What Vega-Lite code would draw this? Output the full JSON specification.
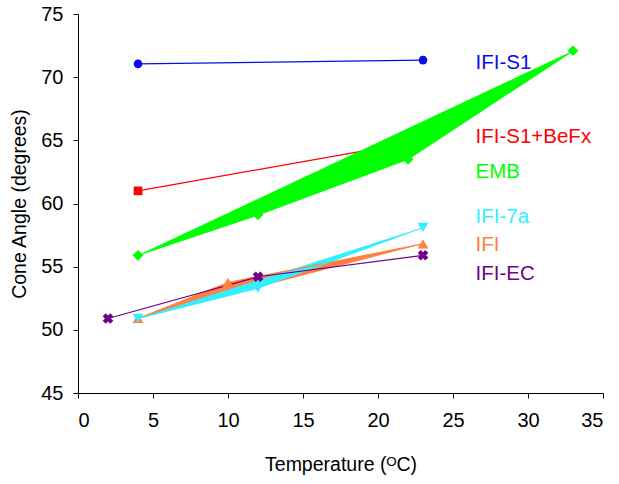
{
  "$schema": "https://vega.github.io/schema/vega-lite/v6.json",
  "width": 525,
  "height": 379,
  "autosize": "none",
  "padding": {"left": 78, "top": 14, "right": 16, "bottom": 91},
  "background": "white",
  "config": {
    "view": {"stroke": null},
    "font": "Liberation Sans",
    "axis": {
      "grid": false,
      "domainColor": "#000000",
      "tickColor": "#000000",
      "labelColor": "#000000",
      "titleColor": "#000000",
      "labelFont": "Liberation Sans",
      "titleFont": "Liberation Sans",
      "labelFontSize": 20,
      "titleFontSize": 19.5,
      "titleFontWeight": "normal",
      "tickSize": 5,
      "domainWidth": 1,
      "tickWidth": 1
    }
  },
  "datasets": {
    "pts": [
      {"series": "IFI-S1", "t": 4, "angle": 71.05},
      {"series": "IFI-S1", "t": 23, "angle": 71.35},
      {"series": "IFI-S1+BeFx", "t": 4, "angle": 61.0},
      {"series": "IFI-S1+BeFx", "t": 23, "angle": 65.0},
      {"series": "EMB", "t": 4, "angle": 55.9},
      {"series": "EMB", "t": 12, "angle": 59.1},
      {"series": "EMB", "t": 22, "angle": 63.5},
      {"series": "EMB", "t": 33, "angle": 72.1},
      {"series": "IFI", "t": 4, "angle": 50.9},
      {"series": "IFI", "t": 10, "angle": 53.75},
      {"series": "IFI", "t": 23, "angle": 56.8},
      {"series": "IFI-7a", "t": 4, "angle": 50.9},
      {"series": "IFI-7a", "t": 12, "angle": 53.3},
      {"series": "IFI-7a", "t": 23, "angle": 58.1},
      {"series": "IFI-EC", "t": 2, "angle": 50.9},
      {"series": "IFI-EC", "t": 12, "angle": 54.2},
      {"series": "IFI-EC", "t": 23, "angle": 55.9}
    ],
    "labels": [
      {"series": "IFI-S1", "t": 26.5, "angle": 71.1},
      {"series": "IFI-S1+BeFx", "t": 26.5, "angle": 65.3},
      {"series": "EMB", "t": 26.5, "angle": 62.5},
      {"series": "IFI-7a", "t": 26.5, "angle": 58.95},
      {"series": "IFI", "t": 26.5, "angle": 56.7},
      {"series": "IFI-EC", "t": 26.5, "angle": 54.4}
    ]
  },
  "encoding": {
    "x": {
      "field": "t", "type": "quantitative",
      "scale": {"domain": [0, 35], "nice": false, "zero": false},
      "axis": {"values": [0, 5, 10, 15, 20, 25, 30, 35], "title": "Temperature (ᴼC)", "labelPadding": 12, "titlePadding": 25}
    },
    "y": {
      "field": "angle", "type": "quantitative",
      "scale": {"domain": [45, 75], "nice": false, "zero": false},
      "axis": {"values": [45, 50, 55, 60, 65, 70, 75], "title": "Cone Angle (degrees)", "labelPadding": 10, "titlePadding": 11}
    },
    "color": {
      "field": "series", "type": "nominal",
      "scale": {
        "domain": ["IFI-S1", "IFI-S1+BeFx", "EMB", "IFI-7a", "IFI", "IFI-EC"],
        "range": ["#0a0aee", "#ff0000", "#00ff00", "#33eeff", "#ff8040", "#70008a"]
      },
      "legend": null
    }
  },
  "layer": [
    {
      "data": {"name": "pts"},
      "transform": [{"filter": "datum.series === 'IFI-S1' || datum.series === 'IFI-S1+BeFx'"}],
      "mark": {"type": "line", "strokeWidth": 1.2}
    },
    {
      "data": {"name": "pts"},
      "transform": [{"filter": "datum.series === 'IFI-S1' || datum.series === 'IFI-S1+BeFx'"}],
      "mark": {"type": "point", "filled": true, "opacity": 1},
      "encoding": {
        "shape": {"field": "series", "type": "nominal", "scale": {"domain": ["IFI-S1", "IFI-S1+BeFx", "EMB", "IFI-7a", "IFI", "IFI-EC"], "range": ["circle", "square", "diamond", "triangle-down", "triangle-up", "cross"]}, "legend": null},
        "size": {"value": 75}
      }
    },
    {
      "data": {"name": "pts"},
      "transform": [{"filter": "datum.series === 'EMB' || datum.series === 'IFI' || datum.series === 'IFI-7a'"}],
      "mark": {"type": "line", "filled": true, "strokeWidth": 0}
    },
    {
      "data": {"name": "pts"},
      "transform": [{"filter": "datum.series !== 'IFI-S1' && datum.series !== 'IFI-S1+BeFx'"}],
      "mark": {"type": "line", "strokeWidth": 1.2}
    },
    {
      "data": {"name": "pts"},
      "transform": [{"filter": "datum.series !== 'IFI-S1' && datum.series !== 'IFI-S1+BeFx'"}],
      "mark": {"type": "point", "filled": true, "opacity": 1},
      "encoding": {
        "shape": {"field": "series", "type": "nominal", "scale": {"domain": ["IFI-S1", "IFI-S1+BeFx", "EMB", "IFI-7a", "IFI", "IFI-EC"], "range": ["circle", "square", "diamond", "triangle-down", "triangle-up", "cross"]}, "legend": null},
        "size": {"value": 115},
        "angle": {"condition": {"test": "datum.series === 'IFI-EC'", "value": 45}, "value": 0}
      }
    },
    {
      "data": {"name": "labels"},
      "mark": {"type": "text", "align": "left", "baseline": "middle", "font": "Liberation Sans", "fontSize": 20.5},
      "encoding": {"text": {"field": "series"}}
    }
  ]
}
